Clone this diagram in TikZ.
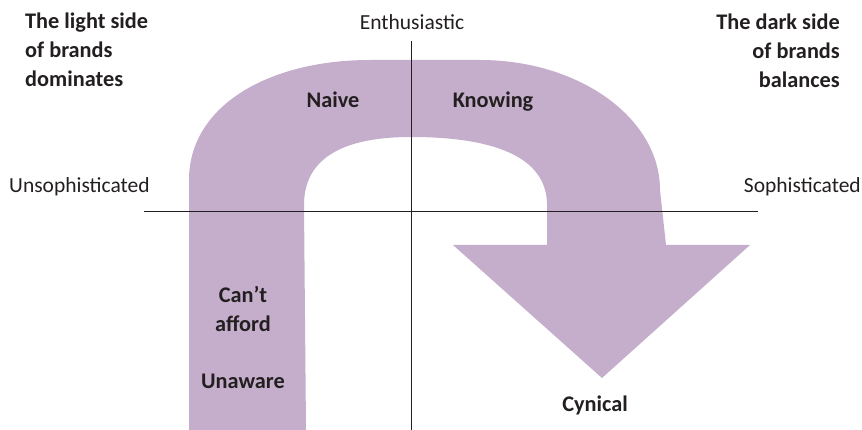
\documentclass[tikz,border=0pt]{standalone}
\usepackage{fontspec}
\setmainfont{Carlito}
\usepackage{xcolor}
\usepackage{tikz}
\definecolor{lilac}{RGB}{197,174,203}
\definecolor{ink}{RGB}{35,31,32}

\begin{document}
\begin{tikzpicture}[x=1pt,y=-1pt,
    lbl/.style={inner sep=0pt,anchor=base,text=ink,font=\fontsize{22.3}{29}\selectfont\bfseries},
    axlbl/.style={inner sep=0pt,anchor=base,text=ink,font=\fontsize{21.5}{29}\selectfont}]
  \useasboundingbox (0,0) rectangle (862,430);
  \fill[lilac] (189,430) -- (189,180) .. controls (189,105) and (270,60) .. (370,60)
     -- (480,60) .. controls (579,60) and (660,118) .. (660,190) -- (666,245)
     -- (750,245) -- (602,378) -- (453,245) -- (547,245) -- (547,205)
     .. controls (547,155) and (490,137) .. (411,137)
     .. controls (340,137) and (304,160) .. (304,205) -- (306,430) -- cycle;
  \coordinate (n) at (411,41);
  \coordinate (s) at (411,430);
  \coordinate (w) at (144,211);
  \coordinate (e) at (758,211);
  \draw[ink,line width=0.8pt] (n) -- (s) (w) -- (e);
  \node[axlbl] (enth) at (412,30) {Enthusiastic};
  \node[axlbl,anchor=base west] (unsoph) at (9,193) {Unsophisticated};
  \node[axlbl,anchor=base east] (soph) at (861,193) {Sophisticated};
  \node[lbl,anchor=base west] (light) at (25,29)
    {\begin{tabular}[t]{@{}l@{}}The light side\\of brands\\dominates\end{tabular}};
  \node[lbl,anchor=base east] (dark) at (840,30)
    {\begin{tabular}[t]{@{}r@{}}The dark side\\of brands\\balances\end{tabular}};
  \node[lbl] (naive) at (333,108) {Naive};
  \node[lbl] (knowing) at (493,108) {Knowing};
  \node[lbl] (afford) at (243,302)
    {\begin{tabular}[t]{@{}c@{}}Can’t\\afford\end{tabular}};
  \node[lbl] (unaware) at (243,388) {Unaware};
  \node[lbl] (cynical) at (595,411) {Cynical};
\end{tikzpicture}
\end{document}
